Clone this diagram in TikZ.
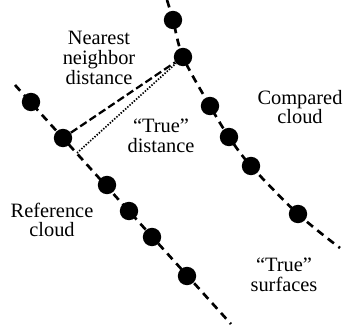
\documentclass[tikz,border=0pt]{standalone}
\usepackage{fontspec}
\setmainfont{Liberation Serif}
\usepackage{tikz}
\usetikzlibrary{shapes,arrows,positioning}
\tikzset{
  pt/.style={
    circle,
    fill=black,
    inner sep=0pt,
    minimum size=0.46cm
  },
  surface/.style={
    line width=1.9pt,
    dash pattern=on 5.5pt off 4pt
  },
  nnline/.style={
    line width=1.6pt,
    dash pattern=on 5.5pt off 2.5pt
  },
  trueline/.style={
    line width=1.2pt,
    dash pattern=on 1pt off 1.1pt
  },
  txt/.style={
    align=center,
    inner sep=0pt,
    font=\fontsize{14.5}{14}\selectfont
  }
}

\begin{document}
\begin{tikzpicture}[x=0.025cm, y=-0.025cm]
\useasboundingbox (0,0) rectangle (344,329);

\node[pt] (r1) at (31,102) {};
\node[pt] (r2) at (63,138) {};
\node[pt] (r3) at (107,185) {};
\node[pt] (r4) at (129,211) {};
\node[pt] (r5) at (152,237) {};
\node[pt] (r6) at (187,276) {};

\node[pt] (c1) at (173,20) {};
\node[pt] (c2) at (183,57) {};
\node[pt] (c3) at (210,106) {};
\node[pt] (c4) at (229,137) {};
\node[pt] (c5) at (251,166) {};
\node[pt] (c6) at (298,214) {};

\coordinate (rs) at (15,85);
\coordinate (re) at (231,324);
\coordinate (cs) at (167,0);
\coordinate (ce) at (340,248);
\coordinate (foot) at (77,153);

\draw[surface] (rs) -- (re);
\draw[surface] plot[smooth, tension=0.55] coordinates {(cs) (c1) (c2) (c3) (c4) (c5) (c6) (ce)};

\draw[nnline] (r2) -- (c2);
\draw[trueline] (foot) -- (c2);

\node[txt] (nn) at (99,58) {Nearest\\neighbor\\distance};
\node[txt] (td) at (161,136) {``True''\\distance};
\node[txt] (cc) at (300,107) {Compared\\cloud};
\node[txt] (rc) at (52,220) {Reference\\cloud};
\node[txt] (ts) at (284,275) {``True''\\surfaces};

\end{tikzpicture}
\end{document}
